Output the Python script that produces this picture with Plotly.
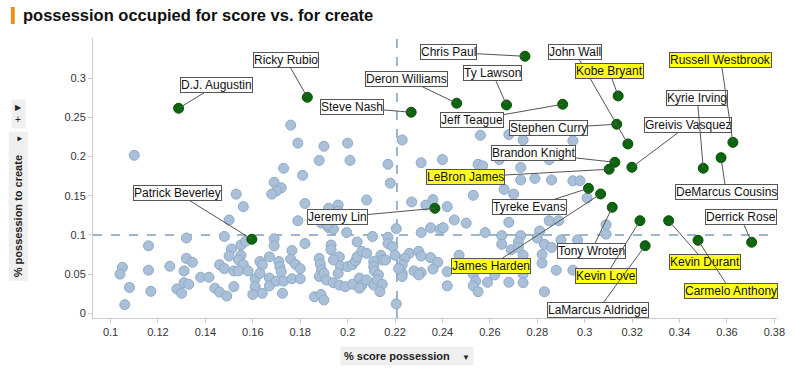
import plotly.graph_objects as go

# ---------------- data ----------------
players = ["D.J. Augustin", "Ricky Rubio", "Steve Nash", "Deron Williams", "Chris Paul",
           "Ty Lawson", "Jeff Teague", "John Wall", "Kobe Bryant", "Stephen Curry",
           "Brandon Knight", "LeBron James", "Greivis Vasquez", "Kyrie Irving",
           "DeMarcus Cousins", "Russell Westbrook", "Tyreke Evans", "James Harden",
           "Tony Wroten", "Kevin Love", "LaMarcus Aldridge", "Kevin Durant",
           "Carmelo Anthony", "Derrick Rose", "Jeremy Lin", "Patrick Beverley"]
player_score = [0.1287, 0.1830, 0.2268, 0.2460, 0.2748, 0.2670, 0.2907, 0.3182, 0.3141, 0.3135,
                0.3127, 0.3103, 0.3199, 0.3500, 0.3575, 0.3625, 0.3016, 0.3067, 0.3116, 0.3233,
                0.3255, 0.3354, 0.3478, 0.3704, 0.2368, 0.1596]
player_create = [0.2615, 0.2755, 0.2564, 0.2679, 0.3278, 0.2657, 0.2666, 0.2160, 0.2772, 0.2411,
                 0.1926, 0.1837, 0.1862, 0.1850, 0.1985, 0.2180, 0.1594, 0.1522, 0.1352, 0.1181,
                 0.0862, 0.1181, 0.0931, 0.0906, 0.1339, 0.0944]
highlighted = ["Kobe Bryant", "Russell Westbrook", "LeBron James", "James Harden",
               "Kevin Love", "Kevin Durant", "Carmelo Anthony"]

other_score = [
    0.176, 0.179, 0.190, 0.200, 0.223, 0.110, 0.188, 0.201, 0.217, 0.231, 0.240, 0.256, 0.268,
    0.274, 0.295, 0.255, 0.257, 0.273, 0.264, 0.285, 0.173, 0.181, 0.218, 0.169, 0.172, 0.170,
    0.168, 0.153, 0.156, 0.182, 0.192, 0.196, 0.196, 0.208, 0.227, 0.236, 0.233, 0.242, 0.253,
    0.266, 0.270, 0.273, 0.279, 0.286, 0.295, 0.298, 0.301,
    0.245, 0.250, 0.235, 0.239, 0.2403, 0.231, 0.258, 0.268, 0.285, 0.289, 0.281, 0.280, 0.265,
    0.273, 0.272, 0.265, 0.269, 0.272, 0.274, 0.283, 0.286, 0.282, 0.282, 0.226, 0.230, 0.231,
    0.224, 0.223, 0.223, 0.235, 0.238, 0.236, 0.228, 0.231, 0.230, 0.223, 0.242, 0.247, 0.274,
    0.288, 0.295, 0.242, 0.253, 0.254, 0.253, 0.255, 0.259, 0.262, 0.268, 0.274, 0.283, 0.2205,
    0.309, 0.309, 0.290, 0.297,
    0.150, 0.148, 0.132, 0.116, 0.169, 0.151, 0.155, 0.157, 0.167, 0.150, 0.155, 0.154, 0.156,
    0.132, 0.1345, 0.163, 0.164, 0.105, 0.104, 0.116, 0.125, 0.131, 0.146, 0.148, 0.152, 0.154,
    0.158, 0.161, 0.163, 0.167, 0.138, 0.1415, 0.131, 0.133, 0.161, 0.167, 0.108, 0.117, 0.128,
    0.130, 0.144, 0.146, 0.152, 0.149, 0.160, 0.164, 0.106,
    0.179, 0.189, 0.192, 0.194, 0.1916, 0.1996, 0.2205, 0.2105, 0.169, 0.182, 0.204, 0.217,
    0.217, 0.219, 0.220, 0.1765, 0.176, 0.178, 0.180, 0.171, 0.1714, 0.172, 0.193, 0.193, 0.188,
    0.1885, 0.189, 0.1965, 0.194, 0.197, 0.196, 0.200, 0.202, 0.2034, 0.204, 0.206, 0.208, 0.214,
    0.2146, 0.211, 0.211, 0.2113, 0.213, 0.216, 0.2215, 0.170, 0.173, 0.1765, 0.180, 0.188,
    0.190, 0.191, 0.194, 0.1965, 0.199, 0.202, 0.205, 0.206, 0.208, 0.211, 0.2125, 0.2146, 0.205,
    0.2136, 0.1725, 0.186, 0.1888, 0.190]
other_create = [
    0.240, 0.217, 0.213, 0.217, 0.221, 0.2015, 0.195, 0.195, 0.190, 0.192, 0.196, 0.227, 0.228,
    0.221, 0.220, 0.190, 0.188, 0.186, 0.196, 0.196, 0.185, 0.176, 0.166, 0.167, 0.160, 0.156,
    0.152, 0.152, 0.136, 0.140, 0.134, 0.138, 0.130, 0.1445, 0.142, 0.145, 0.138, 0.136, 0.1505,
    0.158, 0.152, 0.170, 0.172, 0.170, 0.169, 0.169, 0.147,
    0.119, 0.115, 0.109, 0.107, 0.1092, 0.103, 0.103, 0.116, 0.118, 0.118, 0.105, 0.096, 0.099,
    0.099, 0.091, 0.088, 0.081, 0.084, 0.074, 0.088, 0.084, 0.075, 0.064, 0.0765, 0.079, 0.073,
    0.070, 0.062, 0.051, 0.071, 0.065, 0.0565, 0.054, 0.052, 0.049, 0.047, 0.053, 0.074, 0.050,
    0.055, 0.055, 0.035, 0.050, 0.041, 0.035, 0.0275, 0.0395, 0.049, 0.0395, 0.039, 0.0275, 0.012,
    0.113, 0.101, 0.0935, 0.0935,
    0.119, 0.098, 0.096, 0.086, 0.095, 0.082, 0.087, 0.092, 0.072, 0.073, 0.074, 0.068, 0.062,
    0.070, 0.065, 0.066, 0.0616, 0.0586, 0.050, 0.055, 0.060, 0.054, 0.062, 0.057, 0.054, 0.054,
    0.054, 0.044, 0.051, 0.045, 0.046, 0.046, 0.039, 0.037, 0.034, 0.035, 0.033, 0.028, 0.031,
    0.0255, 0.032, 0.027, 0.034, 0.022, 0.024, 0.0255, 0.011,
    0.118, 0.115, 0.109, 0.1075, 0.1126, 0.103, 0.108, 0.098, 0.086, 0.089, 0.091, 0.097,
    0.089, 0.085, 0.074, 0.080, 0.069, 0.0625, 0.057, 0.066, 0.0595, 0.053, 0.087, 0.081, 0.070,
    0.0625, 0.055, 0.072, 0.068, 0.060, 0.051, 0.0595, 0.062, 0.067, 0.072, 0.079, 0.0765, 0.074,
    0.068, 0.066, 0.0595, 0.054, 0.049, 0.068, 0.057, 0.041, 0.041, 0.044, 0.044, 0.047,
    0.051, 0.0425, 0.039, 0.036, 0.034, 0.037, 0.045, 0.036, 0.0425, 0.036, 0.0425, 0.037, 0.032,
    0.0276, 0.0255, 0.021, 0.024, 0.017]

x_ticks = [0.1, 0.12, 0.14, 0.16, 0.18, 0.2, 0.22, 0.24, 0.26, 0.28, 0.3, 0.32, 0.34, 0.36, 0.38]
x_tick_labels = ["0.1", "0.12", "0.14", "0.16", "0.18", "0.2", "0.22", "0.24", "0.26", "0.28",
                 "0.3", "0.32", "0.34", "0.36", "0.38"]
y_ticks = [0, 0.05, 0.1, 0.15, 0.2, 0.25, 0.3]
y_tick_labels = ["0", "0.05", "0.1", "0.15", "0.2", "0.25", "0.3"]

ref_score = 0.2208   # vertical reference line
ref_create = 0.1     # horizontal reference line

# label offsets (pixels, from point to label centre)
label_offsets = {
    "D.J. Augustin": (38, -23), "Ricky Rubio": (-21, -37), "Steve Nash": (-59, -5),
    "Deron Williams": (-50, -24), "Chris Paul": (-76, -4), "Ty Lawson": (-14, -32),
    "Jeff Teague": (-91, 16), "John Wall": (-53, -92), "Kobe Bryant": (-9, -25),
    "Stephen Curry": (-68, 4), "Brandon Knight": (-81, -9), "LeBron James": (-144, 8),
    "Greivis Vasquez": (56, -42), "Kyrie Irving": (-6, -70), "DeMarcus Cousins": (5, 34),
    "Russell Westbrook": (-12, -82), "Tyreke Evans": (-59, 19), "James Harden": (-110, 72),
    "Tony Wroten": (-21, 44), "Kevin Love": (-34, 55), "LaMarcus Aldridge": (-47, 64),
    "Kevin Durant": (36, 41), "Carmelo Anthony": (33, 51), "Derrick Rose": (-11, -25),
    "Jeremy Lin": (-97, 9), "Patrick Beverley": (-74, -46),
}

FONT = "Liberation Sans, Arial, sans-serif"

fig = go.Figure()
fig.add_trace(go.Scatter(
    x=other_score, y=other_create, mode="markers",
    marker=dict(size=10, color="#a9c0d8", line=dict(color="#8eaac8", width=1)),
    hoverinfo="skip", showlegend=False))
fig.add_trace(go.Scatter(
    x=player_score, y=player_create, mode="markers", text=players,
    marker=dict(size=10, color="#0b650b", line=dict(color="#0a520a", width=1)),
    showlegend=False))

# reference lines
fig.add_shape(type="line", xref="paper", x0=0, x1=1, yref="y", y0=ref_create, y1=ref_create,
              line=dict(color="#7f9fb8", width=1.5, dash="dash"), layer="below")
fig.add_shape(type="line", xref="x", x0=ref_score, x1=ref_score, yref="paper", y0=0, y1=1,
              line=dict(color="#7f9fb8", width=1.5, dash="dash"), layer="below")

annotations = []
for name, sx, sy in zip(players, player_score, player_create):
    ox, oy = label_offsets[name]
    hl = name in highlighted
    annotations.append(dict(
        x=sx, y=sy, xref="x", yref="y", text=name, showarrow=True, arrowhead=0,
        arrowwidth=1, arrowcolor="#555555", ax=ox, ay=oy, standoff=0,
        font=dict(family=FONT, size=12, color="#111111"),
        bgcolor="#ffff1a" if hl else "#ffffff", bordercolor="#555555", borderwidth=1,
        borderpad=0))

# axis titles
annotations.append(dict(
    xref="paper", yref="paper", x=(410 - 93) / 691, y=(318 - 356) / 280,
    text="<b>% score possession</b>    <span style='font-size:8px'>▼</span>",
    showarrow=False, font=dict(family=FONT, size=11, color="#222222"),
    bgcolor="#efefef", borderpad=3, xanchor="center", yanchor="middle"))
annotations.append(dict(
    xref="paper", yref="paper", x=(17.5 - 93) / 691, y=(318 - 206) / 280,
    text="<b>% possession to create</b>    <span style='font-size:8px'>▼</span>",
    textangle=-90, showarrow=False, font=dict(family=FONT, size=11, color="#222222"),
    bgcolor="#efefef", borderpad=3, xanchor="center", yanchor="middle"))
annotations.append(dict(
    xref="paper", yref="paper", x=(17.5 - 93) / 691, y=(318 - 114) / 280,
    text="<span style='font-size:8px'>▶</span><br>+",
    showarrow=False, font=dict(family=FONT, size=10, color="#222222"),
    bgcolor="#efefef", borderpad=3, xanchor="center", yanchor="middle"))

# title
annotations.append(dict(
    xref="paper", yref="paper", x=(20 - 93) / 691, y=(318 - 15) / 280,
    text="<b>possession occupied for score vs. for create</b>", showarrow=False,
    font=dict(family=FONT, size=16.5, color="#111111"), xanchor="left", yanchor="middle"))
fig.add_shape(type="rect", xref="paper", yref="paper",
              x0=(10 - 93) / 691, x1=(14 - 93) / 691, y0=(318 - 24) / 280, y1=(318 - 7) / 280,
              fillcolor="#e8921c", line=dict(width=0))

fig.update_layout(
    width=797, height=368, margin=dict(l=93, r=13, t=38, b=50),
    plot_bgcolor="white", paper_bgcolor="white",
    annotations=annotations,
    xaxis=dict(range=[0.0926, 0.3811], tickvals=x_ticks, ticktext=x_tick_labels,
               showgrid=False, zeroline=False, showline=True, linecolor="#cccccc",
               ticks="outside", ticklen=4, tickcolor="#cccccc",
               tickfont=dict(family=FONT, size=11, color="#333333")),
    yaxis=dict(range=[-0.006, 0.3511], tickvals=y_ticks, ticktext=y_tick_labels,
               showgrid=False, zeroline=False, showline=True, linecolor="#cccccc",
               ticks="outside", ticklen=4, tickcolor="#cccccc",
               tickfont=dict(family=FONT, size=11, color="#333333")),
)

fig.write_html("out.html", config={"displayModeBar": False},
               post_script="document.body.style.margin='0';")
